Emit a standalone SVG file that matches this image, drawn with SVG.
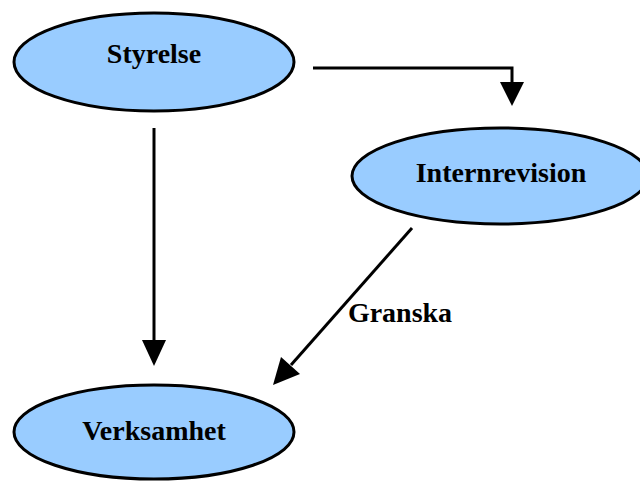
<svg xmlns="http://www.w3.org/2000/svg" width="640" height="482" viewBox="0 0 640 482">
<style>
.n{fill:#99CCFF;stroke:#000;stroke-width:3}
.t{font-family:"Liberation Serif","Times New Roman",serif;font-weight:bold;font-size:28px;fill:#000;text-anchor:middle}
.c{fill:none;stroke:#000;stroke-width:3}
.h{fill:#000}
</style>
<rect width="640" height="482" fill="#fff"/>
<g id="connectors">
<polyline class="c" points="313,68 512,68 512,84"/>
<polygon class="h" points="500,82 524,82 512,106"/>
<line class="c" x1="154" y1="128" x2="154" y2="342"/>
<polygon class="h" points="142,340 166,340 154,366"/>
<line class="c" x1="412" y1="228" x2="291" y2="365"/>
<polygon class="h" points="273,385 281,357 300,374"/>
<text class="t" x="400" y="322">Granska</text>
</g>
<g id="styrelse">
<ellipse class="n" cx="154" cy="62" rx="140" ry="49"/>
<text class="t" x="154" y="63">Styrelse</text>
</g>
<g id="internrevision">
<ellipse class="n" cx="500" cy="176" rx="148" ry="48"/>
<text class="t" x="501" y="182">Internrevision</text>
</g>
<g id="verksamhet">
<ellipse class="n" cx="154" cy="432" rx="140" ry="47"/>
<text class="t" x="154" y="440">Verksamhet</text>
</g>
</svg>
